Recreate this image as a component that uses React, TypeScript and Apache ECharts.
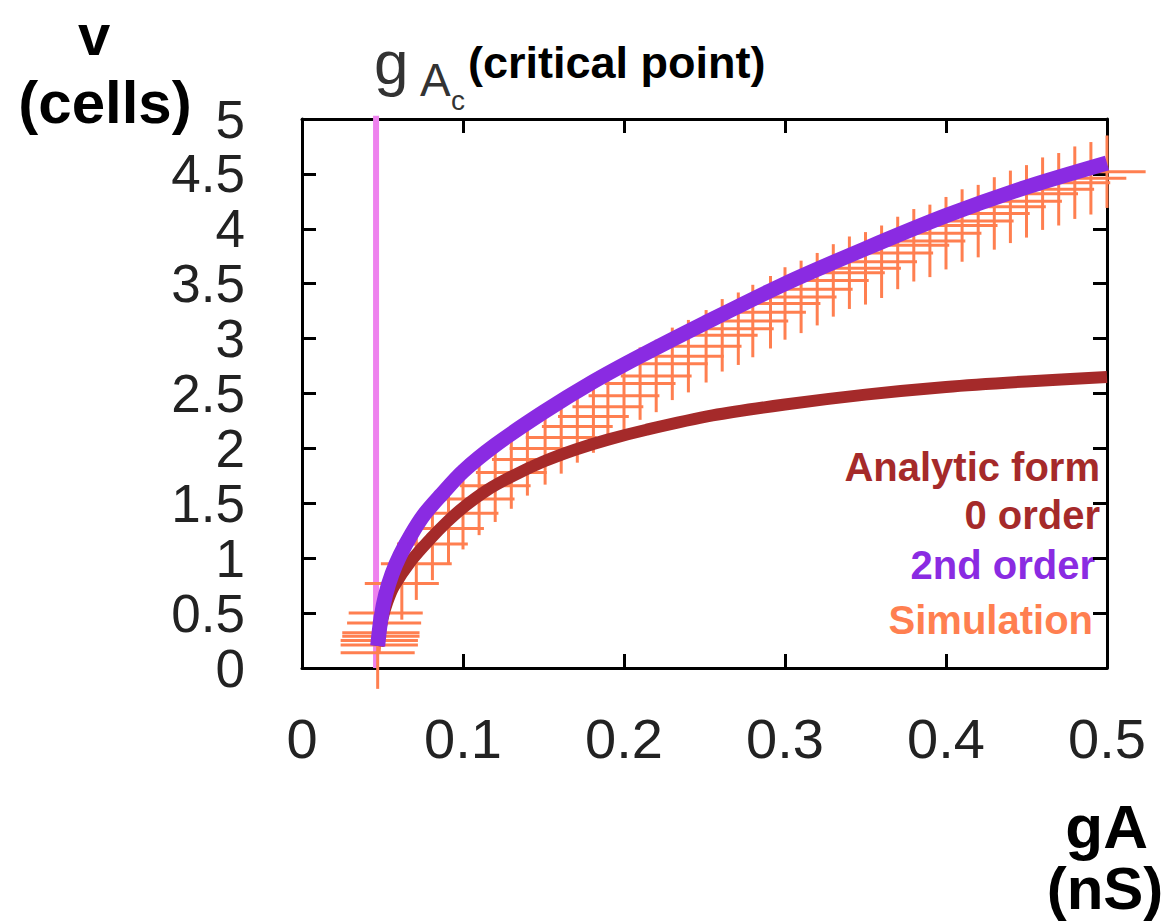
import React, { useEffect, useRef } from "react";
import * as echarts from "echarts";

// critical point gA_c
const criticalG = [0.046, 0.046];
const criticalV = [0, 5.03];

// 2nd order (purple)
const order2G = [0.047, 0.049, 0.052, 0.056, 0.061, 0.068, 0.076, 0.086, 0.1, 0.12, 0.15, 0.18, 0.21, 0.25, 0.3, 0.35, 0.4, 0.45, 0.5];
const order2V = [0.2, 0.45, 0.67, 0.86, 1.03, 1.22, 1.4, 1.57, 1.79, 2.03, 2.33, 2.6, 2.84, 3.14, 3.5, 3.82, 4.12, 4.38, 4.6];

// Analytic form 0 order (brown)
const order0G = [0.047, 0.05, 0.053, 0.057, 0.068, 0.08, 0.09, 0.1, 0.115, 0.131, 0.15, 0.17, 0.19, 0.214, 0.255, 0.3, 0.35, 0.4, 0.45, 0.5];
const order0V = [0.2, 0.45, 0.6, 0.74, 0.98, 1.18, 1.33, 1.46, 1.62, 1.75, 1.88, 1.99, 2.08, 2.17, 2.3, 2.4, 2.49, 2.56, 2.61, 2.65];

// Simulation (coral) : centre gA, centre v, half-width in gA, half-height in v
const simG = [0.047, 0.048, 0.048, 0.049, 0.049, 0.051, 0.052,
  0.062, 0.071, 0.081, 0.091, 0.1, 0.11, 0.12, 0.13, 0.14, 0.151, 0.161, 0.171, 0.181, 0.19, 0.2,
  0.21, 0.22, 0.23, 0.24, 0.251, 0.261, 0.271, 0.28, 0.291, 0.3, 0.31, 0.32, 0.33, 0.34,
  0.35, 0.36, 0.37, 0.38, 0.39, 0.4, 0.41, 0.42, 0.43, 0.44, 0.45, 0.46, 0.47, 0.48, 0.49, 0.5];
const simV = [0.14, 0.21, 0.25, 0.29, 0.32, 0.41, 0.5,
  0.77, 0.95, 1.13, 1.27, 1.41, 1.54, 1.66, 1.78, 1.9, 2.0, 2.1, 2.2, 2.29, 2.38, 2.48,
  2.59, 2.66, 2.77, 2.84, 2.93, 3.03, 3.09, 3.16, 3.24, 3.32, 3.38, 3.45, 3.53, 3.6,
  3.64, 3.7, 3.78, 3.85, 3.89, 3.96, 4.03, 4.07, 4.14, 4.2, 4.25, 4.32, 4.36, 4.42, 4.46, 4.52];
const simDG = [0.023, 0.024, 0.024, 0.024, 0.024, 0.023, 0.023,
  0.023, 0.022, 0.022, 0.022, 0.022, 0.022, 0.022, 0.022, 0.022, 0.022, 0.022, 0.022, 0.022, 0.022, 0.022,
  0.022, 0.022, 0.022, 0.022, 0.022, 0.022, 0.022, 0.022, 0.022, 0.022, 0.022, 0.022, 0.022, 0.022,
  0.022, 0.022, 0.022, 0.022, 0.022, 0.022, 0.022, 0.022, 0.022, 0.022, 0.022, 0.022, 0.022, 0.022, 0.022, 0.024];
const simDV = [0.33, 0.08, 0.08, 0.08, 0.08, 0.1, 0.12,
  0.33, 0.33, 0.33, 0.33, 0.33, 0.33, 0.33, 0.33, 0.33, 0.33, 0.33, 0.33, 0.33, 0.33, 0.33,
  0.33, 0.33, 0.33, 0.33, 0.33, 0.33, 0.33, 0.33, 0.33, 0.33, 0.33, 0.33, 0.33, 0.33,
  0.33, 0.33, 0.33, 0.33, 0.33, 0.33, 0.33, 0.33, 0.33, 0.33, 0.33, 0.33, 0.33, 0.33, 0.33, 0.33];

const legendItems = ["Analytic form", "0 order", "2nd order", "Simulation"];

const FONT = "'Liberation Sans', Arial, Helvetica, sans-serif";
const PURPLE = "#8A2BE2";
const BROWN = "#A52A2A";
const CORAL = "#FF7F50";
const PINK = "#EE82EE";

export default function App() {
  const ref = useRef<HTMLDivElement>(null);

  useEffect(() => {
    if (!ref.current) return;
    const chart = echarts.init(ref.current, undefined, { renderer: "svg" });

    const axisLine = { show: true, onZero: false, lineStyle: { color: "#000", width: 3 } };
    const tick = { show: true, inside: true, length: 14, lineStyle: { color: "#000", width: 3 } };

    const option: any = {
      animation: false,
      backgroundColor: "#fff",
      grid: { left: 302, right: 61, top: 119, bottom: 254, containLabel: false },
      xAxis: [
        {
          type: "value", min: 0, max: 0.5, interval: 0.1, position: "bottom",
          axisLine, axisTick: tick, splitLine: { show: false },
          axisLabel: { fontSize: 56, color: "#222", margin: 42, fontFamily: FONT, showMinLabel: true, showMaxLabel: true },
        },
        {
          type: "value", min: 0, max: 0.5, interval: 0.1, position: "top",
          axisLine, axisTick: tick, splitLine: { show: false }, axisLabel: { show: false },
        },
      ],
      yAxis: [
        {
          type: "value", min: 0, max: 5, interval: 0.5, position: "left",
          axisLine, axisTick: tick, splitLine: { show: false },
          axisLabel: { fontSize: 53, lineHeight: 53, color: "#222", margin: 57, fontFamily: FONT, showMinLabel: true, showMaxLabel: true },
        },
        {
          type: "value", min: 0, max: 5, interval: 0.5, position: "right",
          axisLine, axisTick: tick, splitLine: { show: false }, axisLabel: { show: false },
        },
      ],
      series: [
        {
          name: "gA_c",
          type: "line",
          data: criticalG.map((g, i) => [g, criticalV[i]]),
          showSymbol: false,
          clip: false,
          lineStyle: { color: PINK, width: 6 },
          z: 1,
        },
        {
          name: "Simulation",
          type: "custom",
          clip: false,
          z: 2,
          encode: { x: 0, y: 1 },
          data: simG.map((g, i) => [g, simV[i], simDG[i], simDV[i]]),
          renderItem: (params: any, api: any) => {
            const g = api.value(0), v = api.value(1), dg = api.value(2), dv = api.value(3);
            const l = api.coord([g - dg, v]);
            const r = api.coord([g + dg, v]);
            const b = api.coord([g, v - dv]);
            const t = api.coord([g, v + dv]);
            const st = { stroke: CORAL, lineWidth: 3 };
            return {
              type: "group",
              children: [
                { type: "line", shape: { x1: l[0], y1: l[1], x2: r[0], y2: r[1] }, style: st },
                { type: "line", shape: { x1: b[0], y1: b[1], x2: t[0], y2: t[1] }, style: st },
              ],
            };
          },
        },
        {
          name: "0 order",
          type: "line",
          data: order0G.map((g, i) => [g, order0V[i]]),
          showSymbol: false,
          smooth: 0.3,
          lineStyle: { color: BROWN, width: 12 },
          z: 3,
        },
        {
          name: "2nd order",
          type: "line",
          data: order2G.map((g, i) => [g, order2V[i]]),
          showSymbol: false,
          smooth: 0.3,
          lineStyle: { color: PURPLE, width: 15 },
          z: 4,
        },
      ],
      graphic: [
        { type: "text", x: 94, y: 34, style: { text: "v", font: `bold 58px ${FONT}`, fill: "#000", textAlign: "center", textVerticalAlign: "middle" } },
        { type: "text", x: 105, y: 102, style: { text: "(cells)", font: `bold 60px ${FONT}`, fill: "#000", textAlign: "center", textVerticalAlign: "middle" } },
        { type: "text", x: 374, y: 62, style: { text: "g", font: `62px ${FONT}`, fill: "#333", textAlign: "left", textVerticalAlign: "middle" } },
        { type: "text", x: 420, y: 80, style: { text: "A", font: `46px ${FONT}`, fill: "#333", textAlign: "left", textVerticalAlign: "middle" } },
        { type: "text", x: 451, y: 100, style: { text: "c", font: `28px ${FONT}`, fill: "#333", textAlign: "left", textVerticalAlign: "middle" } },
        { type: "text", x: 468, y: 62, style: { text: "(critical point)", font: `bold 45px ${FONT}`, fill: "#000", textAlign: "left", textVerticalAlign: "middle" } },
        { type: "text", x: 1148, y: 826, style: { text: "gA", font: `bold 62px ${FONT}`, fill: "#000", textAlign: "right", textVerticalAlign: "middle" } },
        { type: "text", x: 1105, y: 888, style: { text: "(nS)", font: `bold 60px ${FONT}`, fill: "#000", textAlign: "center", textVerticalAlign: "middle" } },
        { type: "text", x: 1100, y: 467, style: { text: legendItems[0], font: `bold 40px ${FONT}`, fill: BROWN, textAlign: "right", textVerticalAlign: "middle" } },
        { type: "text", x: 1100, y: 515, style: { text: legendItems[1], font: `bold 40px ${FONT}`, fill: BROWN, textAlign: "right", textVerticalAlign: "middle" } },
        { type: "text", x: 1095, y: 565, style: { text: legendItems[2], font: `bold 40px ${FONT}`, fill: PURPLE, textAlign: "right", textVerticalAlign: "middle" } },
        { type: "text", x: 1093, y: 620, style: { text: legendItems[3], font: `bold 40px ${FONT}`, fill: CORAL, textAlign: "right", textVerticalAlign: "middle" } },
      ],
    };

    chart.setOption(option);
    return () => chart.dispose();
  }, []);

  return (
    <div
      ref={ref}
      style={{ position: "absolute", left: 0, top: 0, width: 1168, height: 922, background: "#fff" }}
    />
  );
}
